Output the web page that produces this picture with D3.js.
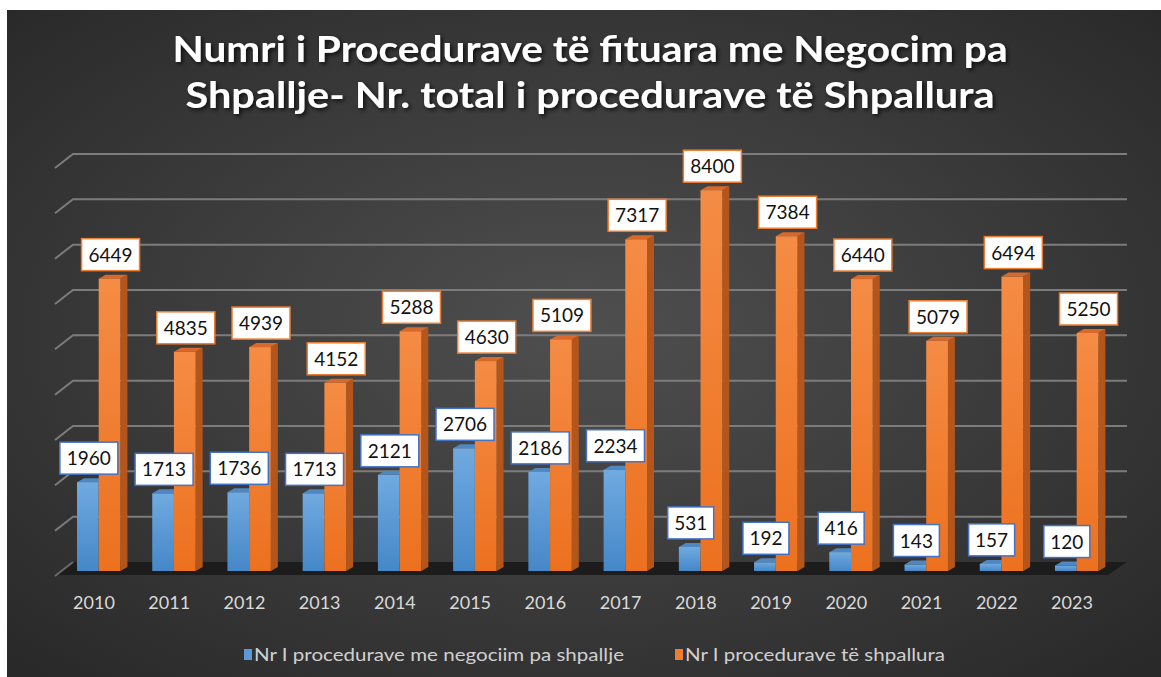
<!DOCTYPE html>
<html>
<head>
<meta charset="utf-8">
<script src="https://cdn.jsdelivr.net/npm/d3@7"></script>
<style>
  html, body { margin: 0; padding: 0; background: #fff; }
  svg { display: block; }
</style>
</head>
<body>
<svg width="1161" height="677"></svg>
<script>
// data
var years = ['2010', '2011', '2012', '2013', '2014', '2015', '2016', '2017', '2018', '2019', '2020', '2021', '2022', '2023']
var negociim = [1960, 1713, 1736, 1713, 2121, 2706, 2186, 2234, 531, 192, 416, 143, 157, 120]
var shpallura = [6449, 4835, 4939, 4152, 5288, 4630, 5109, 7317, 8400, 7384, 6440, 5079, 6494, 5250]
var seriesNames = ['Nr I procedurave me negociim pa shpallje', 'Nr I procedurave të shpallura']
var titleLines = ['Numri i Procedurave të fituara me Negocim pa', 'Shpallje- Nr. total i procedurave të Shpallura']

var svg = d3.select('svg')
var defs = svg.append('defs')

// background
var bg = defs.append('radialGradient').attr('id', 'bg')
  .attr('cx', '50%').attr('cy', '48%').attr('r', '72%')
bg.append('stop').attr('offset', '0%').attr('stop-color', '#4f4f4f')
bg.append('stop').attr('offset', '100%').attr('stop-color', '#282828')

var gBlue = defs.append('linearGradient').attr('id', 'gBlue').attr('x1', 0).attr('y1', 0).attr('x2', 0).attr('y2', 1)
gBlue.append('stop').attr('offset', '0%').attr('stop-color', '#70aae0')
gBlue.append('stop').attr('offset', '100%').attr('stop-color', '#4587c8')
var gOrange = defs.append('linearGradient').attr('id', 'gOrange').attr('x1', 0).attr('y1', 0).attr('x2', 0).attr('y2', 1)
gOrange.append('stop').attr('offset', '0%').attr('stop-color', '#f58c45')
gOrange.append('stop').attr('offset', '100%').attr('stop-color', '#ec711f')

var shadow = defs.append('filter').attr('id', 'shadow').attr('x', '-5%').attr('y', '-30%').attr('width', '110%').attr('height', '160%')
shadow.append('feDropShadow').attr('dx', 2).attr('dy', 2).attr('stdDeviation', 2)
  .attr('flood-color', '#000').attr('flood-opacity', 0.75)

svg.append('rect').attr('x', 7).attr('y', 10).attr('width', 1154).attr('height', 667).attr('fill', 'url(#bg)')

// scales
var step = 75.23
var x = d3.scaleBand().domain(years).range([77, 77 + step * years.length])
var xs = d3.scaleBand().domain([0, 1]).range([0, 43.4])
var yGrid = d3.scaleLinear().domain([0, 9000]).range([562, 154])
var yBar = d3.scaleLinear().domain([0, 9000]).range([571, 163])

var depth = { dx: 18, dy: 14 }
var wallLeft = 73, wallRight = 1127

// floor
svg.append('path')
  .attr('d', 'M' + (wallLeft - depth.dx) + ',' + (yGrid(0) + 13) +
    'L' + wallLeft + ',' + yGrid(0) + 'L' + wallRight + ',' + yGrid(0) +
    'L' + (wallRight - depth.dx - 1) + ',' + (yGrid(0) + 13) + 'Z')
  .attr('fill', '#1c1c1c')

// gridlines
var ticks = yGrid.ticks(9).filter(function (d) { return d > 0 })
svg.append('g').selectAll('path').data(ticks).join('path')
  .attr('d', function (d) {
    return 'M' + (wallLeft - depth.dx) + ',' + (yGrid(d) + depth.dy) +
      'L' + wallLeft + ',' + yGrid(d) + 'L' + wallRight + ',' + yGrid(d)
  })
  .attr('fill', 'none')
  .attr('stroke', '#7c7c7c')
  .attr('stroke-width', 2)
svg.append('path')
  .attr('d', 'M' + (wallLeft - depth.dx) + ',' + (yGrid(0) + depth.dy) + 'L' + wallLeft + ',' + yGrid(0))
  .attr('stroke', '#6a6a6a').attr('stroke-width', 2)

// bars
var bw = xs.bandwidth()
var tdx = 7, tdy = 4
var rows = years.map(function (y, i) { return { year: y, neg: negociim[i], tot: shpallura[i] } })

var bars = svg.append('g')
rows.forEach(function (d) {
  var x0 = x(d.year)
  var xb = x0 + xs(0), xo = x0 + xs(1)
  var yb = yBar(d.neg), yo = yBar(d.tot), y0 = yBar(0)
  // blue top
  bars.append('path')
    .attr('d', 'M' + xb + ',' + yb + 'L' + (xb + bw) + ',' + yb + 'L' + (xb + bw + tdx) + ',' + (yb - tdy) + 'L' + (xb + tdx) + ',' + (yb - tdy) + 'Z')
    .attr('fill', '#4f87c2')
  bars.append('rect').attr('x', xb).attr('y', yb).attr('width', bw).attr('height', y0 - yb).attr('fill', 'url(#gBlue)')
  // orange side + top
  bars.append('path')
    .attr('d', 'M' + (xo + bw) + ',' + yo + 'L' + (xo + bw + tdx) + ',' + (yo - tdy) + 'L' + (xo + bw + tdx) + ',' + (y0 - tdy) + 'L' + (xo + bw) + ',' + y0 + 'Z')
    .attr('fill', '#b4561b')
  bars.append('path')
    .attr('d', 'M' + xo + ',' + yo + 'L' + (xo + bw) + ',' + yo + 'L' + (xo + bw + tdx) + ',' + (yo - tdy) + 'L' + (xo + tdx) + ',' + (yo - tdy) + 'Z')
    .attr('fill', '#d8692a')
  bars.append('rect').attr('x', xo).attr('y', yo).attr('width', bw).attr('height', y0 - yo).attr('fill', 'url(#gOrange)')
})

// category labels
svg.append('g').selectAll('text').data(years).join('text')
  .attr('x', function (d) { return x(d) + 17 })
  .attr('y', 609)
  .attr('text-anchor', 'middle')
  .attr('font-family', 'Lato, sans-serif')
  .attr('font-size', 18)
  .attr('fill', '#d9d9d9')
  .text(function (d) { return d })

// data labels
function labels (key, si, stroke) {
  var g = svg.append('g').selectAll('g').data(rows).join('g')
    .attr('transform', function (d) {
      var cx = x(d.year) + xs(si) + bw / 2 + 1
      var by = yBar(d[key]) - 8
      return 'translate(' + cx + ',' + by + ')'
    })
  g.append('rect')
    .attr('x', function (d) { return String(d[key]).length > 3 ? -29 : -23 })
    .attr('width', function (d) { return String(d[key]).length > 3 ? 58 : 46 })
    .attr('y', -32).attr('height', 32)
    .attr('fill', '#fff')
    .attr('stroke', stroke)
    .attr('stroke-width', 1.5)
  g.append('text')
    .attr('y', -9)
    .attr('text-anchor', 'middle')
    .attr('font-family', 'Lato, sans-serif')
    .attr('font-size', 19)
    .attr('fill', '#111')
    .text(function (d) { return d[key] })
}
labels('neg', 0, '#4472c4')
labels('tot', 1, '#ed7d31')

// title
svg.append('g').attr('filter', 'url(#shadow)').selectAll('text').data(titleLines).join('text')
  .attr('x', 590)
  .attr('y', function (d, i) { return 62 + i * 46 })
  .attr('text-anchor', 'middle')
  .attr('font-family', 'Lato, sans-serif')
  .attr('font-weight', 'bold')
  .attr('font-size', 36)
  .attr('fill', '#fff')
  .attr('textLength', function (d, i) { return i === 0 ? 835 : 809 })
  .attr('lengthAdjust', 'spacingAndGlyphs')
  .text(function (d) { return d })

// legend
var legendColors = ['#5b9bd5', '#ed7d31']
var legendX = [244, 675]
var legendW = [370, 260]
var lg = svg.append('g').selectAll('g').data(seriesNames).join('g')
  .attr('transform', function (d, i) { return 'translate(' + legendX[i] + ',649)' })
lg.append('rect').attr('width', 8).attr('height', 11).attr('fill', function (d, i) { return legendColors[i] })
lg.append('text')
  .attr('x', 10).attr('y', 12)
  .attr('font-family', 'Lato, sans-serif')
  .attr('font-size', 18)
  .attr('fill', '#d0d0d0')
  .attr('textLength', function (d, i) { return legendW[i] })
  .attr('lengthAdjust', 'spacingAndGlyphs')
  .text(function (d) { return d })
</script>
</body>
</html>
